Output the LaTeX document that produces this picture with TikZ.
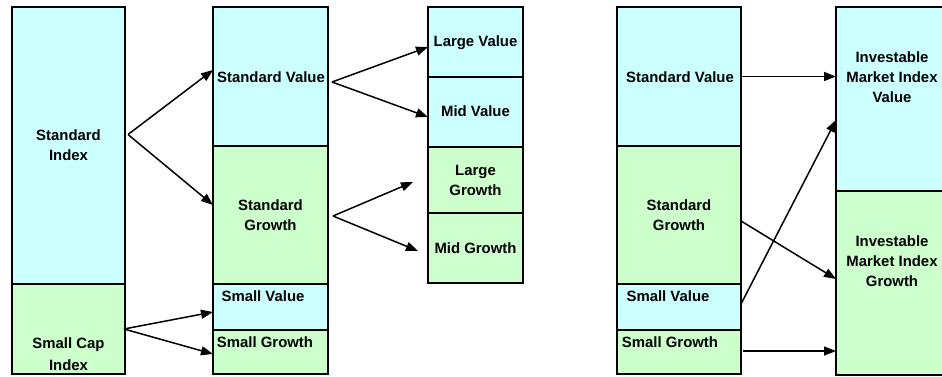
\documentclass[tikz,border=0pt]{standalone}
\usepackage{fontspec}
\setmainfont{Liberation Sans}
\usetikzlibrary{arrows.meta,calc}
\definecolor{valcol}{HTML}{CCFFFF}
\definecolor{grocol}{HTML}{CCFFCC}
\tikzset{
  boxbase/.style={draw=black,line width=1.8pt,inner sep=0pt,outer sep=0pt},
  valbox/.style={boxbase,fill=valcol},
  grobox/.style={boxbase,fill=grocol},
  lbl/.style={inner sep=0pt,align=center,font=\bfseries\fontsize{14.9}{20}\selectfont},
  conn/.style={line width=1.5pt,-{Triangle[length=12pt,width=9pt]}},
}
\begin{document}
\begin{tikzpicture}[x=1pt,y=-1pt]
\clip (0,0) rectangle (942,377);
\fill[white] (0,0) rectangle (942,377);
% column 1
\node[valbox,minimum width=113pt,minimum height=277pt] (si) at (68.5,145.5) {};
\node[grobox,minimum width=113pt,minimum height=90pt] (sc) at (68.5,329) {};
% column 2
\node[valbox,minimum width=115pt,minimum height=139pt] (sv2) at (270.5,76.5) {};
\node[grobox,minimum width=115pt,minimum height=138pt] (sg2) at (270.5,215) {};
\node[valbox,minimum width=115pt,minimum height=46pt] (smv2) at (270.5,307) {};
\node[grobox,minimum width=115pt,minimum height=44pt] (smg2) at (270.5,352) {};
% column 3
\node[valbox,minimum width=95pt,minimum height=70pt] (lv) at (475.5,42) {};
\node[valbox,minimum width=95pt,minimum height=70pt] (mv) at (475.5,112) {};
\node[grobox,minimum width=95pt,minimum height=66pt] (lg) at (475.5,180) {};
\node[grobox,minimum width=95pt,minimum height=70pt] (mg) at (475.5,248) {};
% column 4
\node[valbox,minimum width=124pt,minimum height=139pt] (sv4) at (679,76.5) {};
\node[grobox,minimum width=124pt,minimum height=138pt] (sg4) at (679,215) {};
\node[valbox,minimum width=124pt,minimum height=46pt] (smv4) at (679,307) {};
\node[grobox,minimum width=124pt,minimum height=44pt] (smg4) at (679,352) {};
% column 5
\node[valbox,minimum width=112pt,minimum height=184pt] (imv) at (892,99) {};
\node[grobox,minimum width=112pt,minimum height=184pt] (img) at (892,283) {};
% labels
\node[lbl] (tsi) at (68.5,145) {Standard\\Index};
\node[lbl,font=\bfseries\fontsize{14.9}{22}\selectfont] (tsc) at (68.5,354) {Small Cap\\Index};
\node[lbl] (tsv2) at (271,77) {Standard Value};
\node[lbl] (tsg2) at (270.5,215) {Standard\\Growth};
\node[lbl] (tsmv2) at (263,296) {Small Value};
\node[lbl] (tsmg2) at (265,342) {Small Growth};
\node[lbl] (tlv) at (475.5,43) {Large Value};
\node[lbl] (tmv) at (475.5,111) {Mid Value};
\node[lbl] (tlg) at (475.5,180) {Large\\Growth};
\node[lbl] (tmg) at (475.5,248) {Mid Growth};
\node[lbl] (tsv4) at (680,77) {Standard Value};
\node[lbl] (tsg4) at (679,215) {Standard\\Growth};
\node[lbl] (tsmv4) at (668,296) {Small Value};
\node[lbl] (tsmg4) at (670,342) {Small Growth};
\node[lbl] (timv) at (892,77) {Investable\\Market Index\\Value};
\node[lbl] (timg) at (892,261) {Investable\\Market Index\\Growth};
% connectors left part
\draw[conn] ([xshift=3pt,yshift=11pt]si.east) -- ([yshift=6.5pt]sv2.west);
\draw[conn] ([xshift=3pt,yshift=11pt]si.east) -- ([yshift=10pt]sg2.west);
\draw[conn] ([xshift=-1pt]sc.east) -- ([yshift=-5pt]smv2.west);
\draw[conn] ([xshift=-1pt]sc.east) -- ([yshift=-2pt]smg2.west);
\draw[conn] ([xshift=4pt,yshift=-5.5pt]sv2.east) -- ([yshift=-5pt]lv.west);
\draw[conn] ([xshift=4pt,yshift=-5.5pt]sv2.east) -- ([yshift=-5pt]mv.west);
\draw[conn] ([xshift=5pt,yshift=-1pt]sg2.east) -- ([xshift=-15pt,yshift=-2pt]lg.west);
\draw[conn] ([xshift=5pt,yshift=-1pt]sg2.east) -- ([xshift=-10pt,yshift=-3pt]mg.west);
% connectors right part
\draw[conn] (sv4.east) -- (sv4.east -| imv.west);
\draw[conn] ([yshift=-6pt]sg4.east) -- ([yshift=4pt]img.west);
\draw[conn] ([yshift=3pt]smv4.east) -- ([yshift=-21pt]imv.west);
\draw[conn] ([xshift=2pt,yshift=1pt]smg4.east) -- ([yshift=1pt]smg4.east -| img.west);
\end{tikzpicture}
\end{document}
